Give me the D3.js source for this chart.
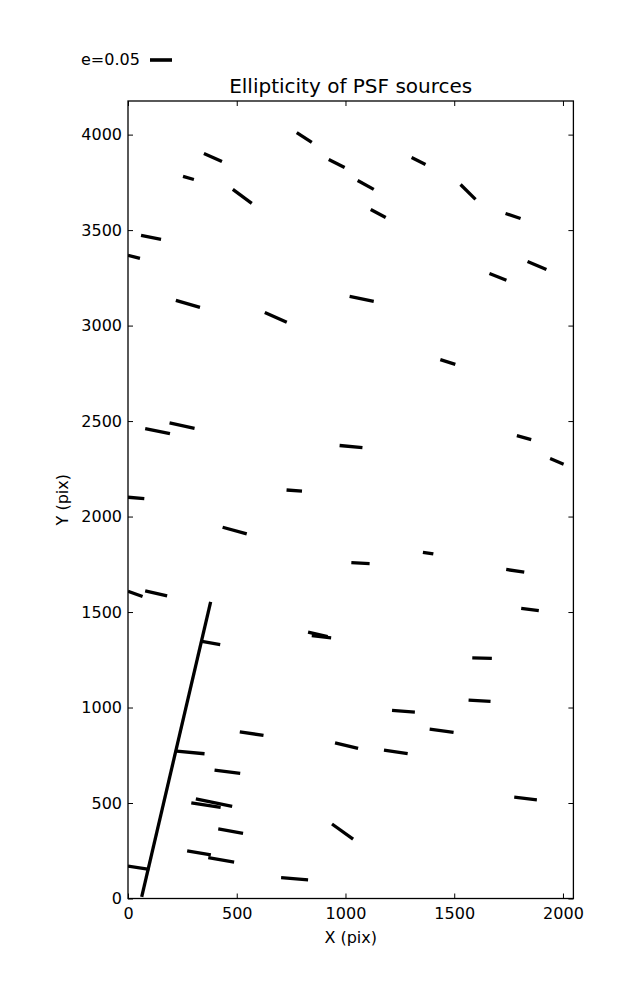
<!DOCTYPE html>
<html>
<head>
<meta charset="utf-8">
<script src="https://cdn.jsdelivr.net/npm/d3@7"></script>
<style>
  html, body { margin: 0; padding: 0; background: #fff; }
  svg { display: block; }
  text { font-family: "DejaVu Sans", sans-serif; fill: #000; }
</style>
</head>
<body>
<svg id="chart" width="637" height="1000"></svg>
<script>
// ---- data (detector pixel coordinates of each ellipticity whisker's ends) ----
const segX0 = [776, 349, 253, 482, 923, 1056, 1116, 1304, 1529, 1736,
               60, 0, 220, 629, 1019, 1662, 1837, 1436, 79, 191,
               973, 1788, 1941, 0, 729, 435, 1027, 1356, 1739, 0,
               79, 1808, 380, 340, 828, 845, 1583, 1214, 1566, 514,
               1387, 952, 1177, 224, 398, 312, 291, 1776, 415, 938,
               272, 369, 0, 704];
const segY0 = [4011, 3901, 3781, 3713, 3870, 3760, 3608, 3880, 3739, 3587,
               3472, 3368, 3132, 3069, 3153, 3273, 3336, 2822, 2461, 2490,
               2372, 2424, 2304, 2101, 2139, 1944, 1759, 1813, 1723, 1609,
               1611, 1519, 1553, 1346, 1395, 1376, 1260, 985, 1039, 873,
               887, 815, 777, 772, 672, 522, 501, 531, 364, 390,
               250, 214, 170, 109];
const segX1 = [845, 432, 303, 569, 996, 1130, 1185, 1368, 1598, 1805,
               152, 55, 331, 730, 1130, 1740, 1924, 1505, 193, 306,
               1078, 1854, 2003, 75, 800, 546, 1111, 1404, 1822, 67,
               180, 1889, 63, 424, 918, 934, 1673, 1319, 1667, 623,
               1497, 1058, 1286, 352, 516, 479, 426, 1880, 529, 1035,
               381, 488, 98, 828];
const segY1 = [3959, 3859, 3765, 3640, 3828, 3713, 3566, 3844, 3661, 3561,
               3451, 3352, 3095, 3017, 3127, 3237, 3294, 2797, 2434, 2462,
               2361, 2403, 2274, 2094, 2133, 1909, 1754, 1804, 1709, 1581,
               1585, 1508, 9, 1330, 1371, 1365, 1257, 976, 1032, 854,
               870, 786, 758, 758, 655, 482, 477, 517, 341, 311,
               229, 191, 153, 98];

const xTicks = [0, 500, 1000, 1500, 2000];
const yTicks = [0, 500, 1000, 1500, 2000, 2500, 3000, 3500, 4000];
const xDomain = [0, 2048];
const yDomain = [0, 4176];
const legendLabel = "e=0.05";
const titleText = "Ellipticity of PSF sources";
const xLabel = "X (pix)";
const yLabel = "Y (pix)";

// ---- layout ----
const L = 128, R = 573.4, T = 101, B = 898.5;
const svg = d3.select("#chart");

const x = d3.scaleLinear().domain(xDomain).range([L, R]);
const y = d3.scaleLinear().domain(yDomain).range([B, T]);

svg.append("defs").append("clipPath").attr("id", "clip")
  .append("rect").attr("x", L).attr("y", T).attr("width", R - L).attr("height", B - T);

// whiskers
const segs = segX0.map((d, i) => ({x0: d, y0: segY0[i], x1: segX1[i], y1: segY1[i]}));
svg.append("g").attr("clip-path", "url(#clip)")
  .selectAll("line").data(segs).join("line")
  .attr("x1", d => x(d.x0)).attr("y1", d => y(d.y0))
  .attr("x2", d => x(d.x1)).attr("y2", d => y(d.y1))
  .attr("stroke", "#000").attr("stroke-width", 3.3).attr("stroke-linecap", "butt");

// axes (ticks inward on all sides)
function styleAxis(g) {
  g.select(".domain").remove();
  g.selectAll(".tick line").attr("stroke", "#000").attr("stroke-width", 1);
  g.selectAll(".tick text").style("font-family", "DejaVu Sans").style("font-size", "16px").attr("fill", "#000");
}
svg.append("g").attr("transform", `translate(0,${B})`)
  .call(d3.axisBottom(x).tickValues(xTicks).tickSizeInner(-5).tickSizeOuter(0).tickPadding(9).tickFormat(d3.format("d")))
  .call(styleAxis);
svg.append("g").attr("transform", `translate(0,${T})`)
  .call(d3.axisTop(x).tickValues(xTicks).tickSizeInner(-5).tickSizeOuter(0).tickFormat(""))
  .call(styleAxis);
svg.append("g").attr("transform", `translate(${L},0)`)
  .call(d3.axisLeft(y).tickValues(yTicks).tickSizeInner(-5).tickSizeOuter(0).tickPadding(6).tickFormat(d3.format("d")))
  .call(styleAxis);
svg.append("g").attr("transform", `translate(${R},0)`)
  .call(d3.axisRight(y).tickValues(yTicks).tickSizeInner(-5).tickSizeOuter(0).tickFormat(""))
  .call(styleAxis);

// frame
svg.append("rect").attr("x", L).attr("y", T).attr("width", R - L).attr("height", B - T)
  .attr("fill", "none").attr("stroke", "#000").attr("stroke-width", 1.3);

// title and labels
svg.append("text").attr("x", (L + R) / 2).attr("y", 93.3).attr("text-anchor", "middle")
  .style("font-size", "20px").text(titleText);
svg.append("text").attr("x", (L + R) / 2).attr("y", 943).attr("text-anchor", "middle")
  .style("font-size", "16px").text(xLabel);
svg.append("text").attr("transform", `translate(68,${(T + B) / 2}) rotate(-90)`)
  .attr("text-anchor", "middle").style("font-size", "16px").text(yLabel);

// legend key
svg.append("text").attr("x", 81).attr("y", 65).style("font-size", "16px").text(legendLabel);
svg.append("line").attr("x1", 150).attr("x2", 172).attr("y1", 60).attr("y2", 60)
  .attr("stroke", "#000").attr("stroke-width", 3.6);
</script>
</body>
</html>
